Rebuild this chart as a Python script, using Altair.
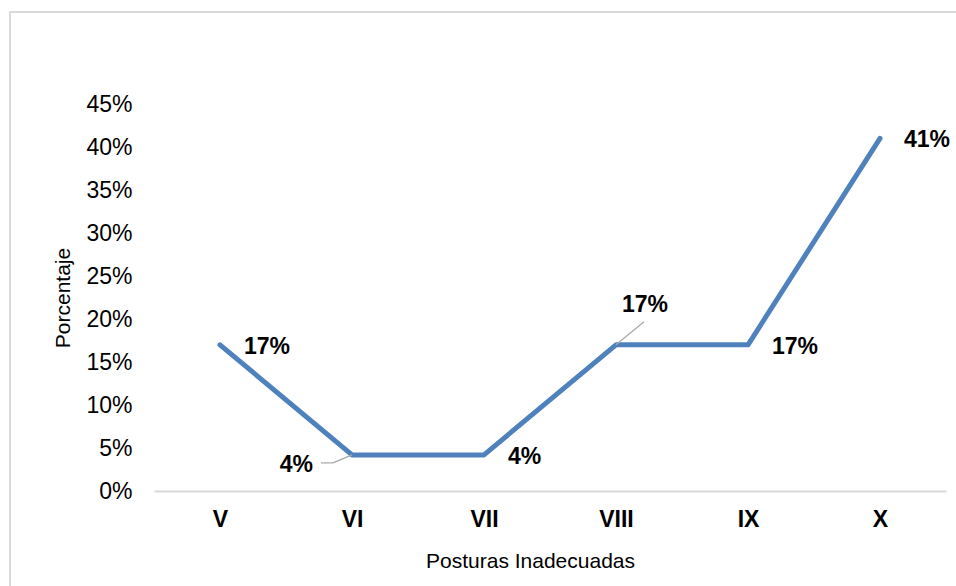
import altair as alt
import pandas as pd

categories = ["V", "VI", "VII", "VIII", "IX", "X"]
values = [0.17, 0.042, 0.042, 0.17, 0.17, 0.41]
labels = ["17%", "4%", "4%", "17%", "17%", "41%"]
y_ticks = [0, 0.05, 0.10, 0.15, 0.20, 0.25, 0.30, 0.35, 0.40, 0.45]

df = pd.DataFrame({"cat": categories, "val": values, "lab": labels})

FONT = "Liberation Sans"
LINE = "#4F81BD"

x = alt.X("cat:N", sort=categories, scale=alt.Scale(type="point", padding=0.5),
          axis=alt.Axis(title="Posturas Inadecuadas", labelAngle=0, labelFontWeight="bold",
                        labelFontSize=23, labelColor="#000000", labelFont=FONT,
                        titleFont=FONT, titleFontSize=21, titleFontWeight="normal",
                        titleColor="#000000", ticks=False, labelPadding=17,
                        titlePadding=19, titleX=376, titleAlign="center",
                        domainColor="#d9d9d9", domainWidth=2, grid=False))
y = alt.Y("val:Q", scale=alt.Scale(domain=[0, 0.45], nice=False),
          axis=alt.Axis(title="Porcentaje", values=y_ticks, format=".0%", labelFontSize=23,
                        labelColor="#000000", labelFont=FONT, titleFont=FONT, titleFontSize=21,
                        titleFontWeight="normal", titleColor="#000000", ticks=False, domain=False,
                        grid=False, labelPadding=22, titlePadding=12))

xs = alt.X("cat:N", sort=categories)
ys = alt.Y("val:Q")

base = alt.Chart(df)

line = base.mark_line(color=LINE, strokeWidth=5, strokeCap="round", strokeJoin="round").encode(x=x, y=y)

txt_kw = dict(font=FONT, fontSize=23, fontWeight="bold", color="#000000", baseline="middle")

lab_right = base.transform_filter(
    alt.FieldOneOfPredicate(field="cat", oneOf=["V", "VII", "IX", "X"])
).mark_text(align="left", dx=24, dy=2, **txt_kw).encode(x=xs, y=ys, text="lab:N")

lab_vi = base.transform_filter(alt.datum.cat == "VI").mark_text(
    align="right", dx=-39, dy=10, **txt_kw).encode(x=xs, y=ys, text="lab:N")

lab_viii = base.transform_filter(alt.datum.cat == "VIII").mark_text(
    align="left", dx=6, dy=-40, **txt_kw).encode(x=xs, y=ys, text="lab:N")

lead_vi1 = base.transform_filter(alt.datum.cat == "VI").mark_rule(
    color="#a6a6a6", strokeWidth=1.2, x2Offset=-19, y2Offset=8).encode(
    x=xs, y=ys, x2="cat:N", y2="val:Q")
lead_vi2 = base.transform_filter(alt.datum.cat == "VI").mark_rule(
    color="#a6a6a6", strokeWidth=1.2, xOffset=-19, yOffset=8, x2Offset=-31, y2Offset=8).encode(
    x=xs, y=ys, x2="cat:N", y2="val:Q")
lead_viii = base.transform_filter(alt.datum.cat == "VIII").mark_rule(
    color="#a6a6a6", strokeWidth=1.2, x2Offset=28, y2Offset=-23).encode(
    x=xs, y=ys, x2="cat:N", y2="val:Q")

border = alt.Chart(pd.DataFrame({"k": [0]})).mark_rect(
    fill=None, stroke="#d9d9d9", strokeWidth=2).encode(
    x=alt.value(-144), y=alt.value(-92), x2=alt.value(805), y2=alt.value(500))

chart = alt.layer(line, border, lead_vi1, lead_vi2, lead_viii, lab_right, lab_vi, lab_viii).properties(
    width=792, height=387,
    autosize=alt.AutoSizeParams(type="none"),
    padding={"left": 154, "top": 104, "right": 10, "bottom": 95},
    background="#ffffff",
).configure_view(stroke=None)

chart.save("out.html", embed_options={"renderer": "svg", "actions": False})
